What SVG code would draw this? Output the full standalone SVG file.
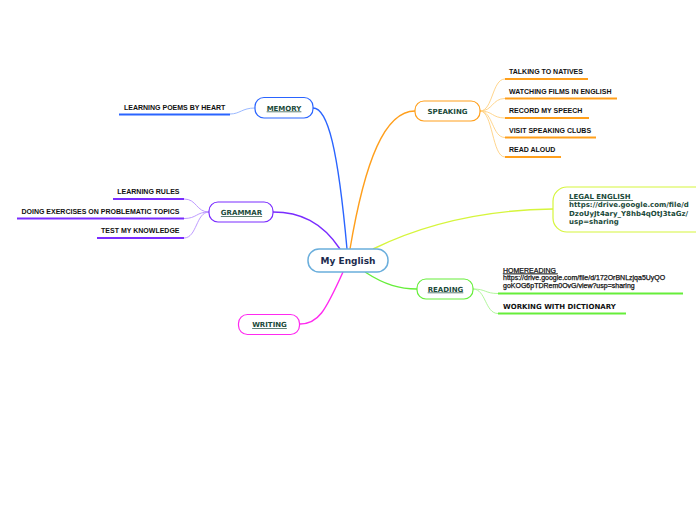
<svg xmlns="http://www.w3.org/2000/svg" width="696" height="520" viewBox="0 0 696 520">
<style>
.node{fill:#fff;stroke-width:1.2}
.lbl{font-family:"DejaVu Sans",Verdana,sans-serif;font-weight:bold;font-size:7px;fill:#1b4a3a}
.u{text-decoration:underline}
.child{font-family:"Liberation Sans",Arial,sans-serif;font-weight:bold;font-size:7px;fill:#111}
.main{fill:none;stroke-width:1.4}
.sub{fill:none;stroke-width:0.9}
.ul{stroke-width:2;fill:none}
</style>
<rect width="696" height="520" fill="#fff"/>
<g id="connectors">
<path class="main" stroke="#2a64ff" d="M313,108 C328,108 338,150 347,249"/>
<path class="main" stroke="#ff9f1c" d="M350,249 C365,160 385,111 415,111"/>
<path class="main" stroke="#7a2cff" d="M340,249 C322,222 300,212 273,212"/>
<path class="main" stroke="#d6f53c" d="M373,249 C420,226 480,210 553,209"/>
<path class="main" stroke="#66ee3a" d="M365,272 C385,285 400,289 417,289"/>
<path class="main" stroke="#ff2af0" d="M343,272 C325,312 318,324 300,324"/>
<path class="sub" stroke="#8fb0ff" d="M255,108 C242,108 240,114 230,114"/>
<g stroke="#ffd080">
<path class="sub" d="M480,111 C493,111 492,79 505,79"/>
<path class="sub" d="M480,111 C493,111 492,98.5 505,98.5"/>
<path class="sub" d="M480,111 C493,111 492,118 505,118"/>
<path class="sub" d="M480,111 C493,111 492,137.5 505,137.5"/>
<path class="sub" d="M480,111 C493,111 492,157 505,157"/>
</g>
<g stroke="#b790ff">
<path class="sub" d="M209,212 C196,212 197,199 184,199"/>
<path class="sub" d="M209,212 C196,212 197,218.5 184,218.5"/>
<path class="sub" d="M209,212 C196,212 197,238 184,238"/>
</g>
<g stroke="#a8f590">
<path class="sub" d="M473,289 C486,289 485,293.5 498,293.5"/>
<path class="sub" d="M473,289 C486,289 485,313.5 498,313.5"/>
</g>
</g>
<g id="central">
<rect x="308" y="249" width="80" height="23" rx="11" fill="#fff" stroke="#6aaedc" stroke-width="1.5"/>
<text x="348" y="264" text-anchor="middle" font-family="DejaVu Sans,Verdana,sans-serif" font-weight="bold" font-size="9px" fill="#1c2b4d">My English</text>
</g>
<g id="memory">
<rect class="node" x="255" y="97.5" width="58" height="20.5" rx="9" stroke="#2a64ff"/>
<text class="lbl u" x="284" y="110.5" text-anchor="middle">MEMORY</text>
</g>
<g id="memory-poems">
<text class="child" x="124" y="109.5">LEARNING POEMS BY HEART</text>
<line class="ul" x1="119" y1="114.5" x2="230" y2="114.5" stroke="#2a64ff"/>
</g>
<g id="speaking">
<rect class="node" x="415" y="101" width="65" height="20" rx="9" stroke="#ff9f1c"/>
<text class="lbl" x="447.5" y="113.7" text-anchor="middle">SPEAKING</text>
</g>
<g id="speaking-children">
<text class="child" x="509" y="74">TALKING TO NATIVES</text>
<line class="ul" x1="505" y1="79" x2="588" y2="79" stroke="#ff9f1c"/>
<text class="child" x="509" y="93.5">WATCHING FILMS IN ENGLISH</text>
<line class="ul" x1="505" y1="98.5" x2="617" y2="98.5" stroke="#ff9f1c"/>
<text class="child" x="509" y="113">RECORD MY SPEECH</text>
<line class="ul" x1="505" y1="118" x2="589" y2="118" stroke="#ff9f1c"/>
<text class="child" x="509" y="132.5">VISIT SPEAKING CLUBS</text>
<line class="ul" x1="505" y1="137.5" x2="596" y2="137.5" stroke="#ff9f1c"/>
<text class="child" x="509" y="152">READ ALOUD</text>
<line class="ul" x1="505" y1="157" x2="561" y2="157" stroke="#ff9f1c"/>
</g>
<g id="legal-english">
<rect class="node" x="553" y="187" width="170" height="45" rx="14" stroke="#d6f53c"/>
<text class="lbl" x="569" y="199"><tspan class="u">LEGAL ENGLISH </tspan><tspan x="569" dy="8.4">https://drive.google.com/file/d</tspan><tspan x="569" dy="8.4">DzoUyJt4ary_Y8hb4qOtJ3taGz/</tspan><tspan x="569" dy="8.4">usp=sharing</tspan></text>
</g>
<g id="reading">
<rect class="node" x="417" y="279" width="56" height="20" rx="9" stroke="#66ee3a"/>
<text class="lbl u" x="445.5" y="291.5" text-anchor="middle">READING</text>
</g>
<g id="reading-children">
<text font-family="Liberation Sans,Arial,sans-serif" font-size="7px" fill="#111" stroke="#111" stroke-width="0.25" x="503" y="272.5"><tspan text-decoration="underline">HOMEREADING </tspan><tspan x="503" dy="7.7">https://drive.google.com/file/d/172OrBNLzjqa5UyQO</tspan><tspan x="503" dy="7.7">goKOG6pTDRem0OvG/view?usp=sharing</tspan></text>
<line class="ul" x1="498" y1="293.5" x2="683" y2="293.5" stroke="#66ee3a"/>
<text class="lbl" style="fill:#111" x="503" y="308.5">WORKING WITH DICTIONARY</text>
<line class="ul" x1="498" y1="313.5" x2="626" y2="313.5" stroke="#66ee3a"/>
</g>
<g id="grammar">
<rect class="node" x="209" y="202" width="64" height="20" rx="9" stroke="#7a2cff"/>
<text class="lbl u" x="241.5" y="215" text-anchor="middle">GRAMMAR</text>
</g>
<g id="grammar-children">
<text class="child" x="179.5" y="193.5" text-anchor="end">LEARNING RULES</text>
<line class="ul" x1="113" y1="199" x2="184" y2="199" stroke="#7a2cff"/>
<text class="child" x="179.5" y="213.7" text-anchor="end">DOING EXERCISES ON PROBLEMATIC TOPICS</text>
<line class="ul" x1="17" y1="218.5" x2="184" y2="218.5" stroke="#7a2cff"/>
<text class="child" x="179.5" y="233.3" text-anchor="end">TEST MY KNOWLEDGE</text>
<line class="ul" x1="97" y1="238" x2="184" y2="238" stroke="#7a2cff"/>
</g>
<g id="writing">
<rect class="node" x="238.5" y="314.5" width="61" height="20" rx="9" stroke="#ff2af0"/>
<text class="lbl u" x="269.5" y="327" text-anchor="middle">WRITING</text>
</g>
</svg>
